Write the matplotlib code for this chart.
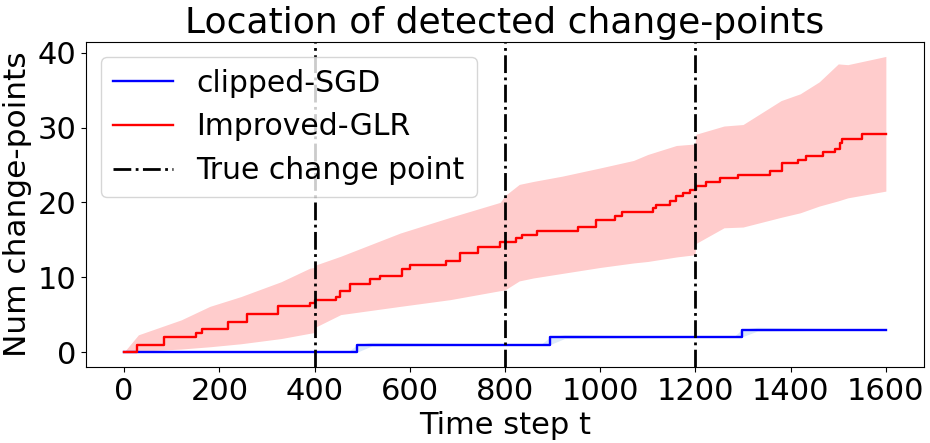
import numpy as np
import matplotlib
matplotlib.use("Agg")
import matplotlib.pyplot as plt

# rata-rata jumlah change-point (Improved-GLR)
glr_t = [0, 28, 84, 151, 163, 219, 258, 324, 390, 401, 446, 453, 474, 516, 537, 583,
         600, 677, 705, 744, 789, 824, 835, 867, 954, 992, 1031, 1045, 1111, 1118,
         1146, 1160, 1174, 1188, 1202, 1223, 1251, 1290, 1356, 1381, 1416, 1433,
         1468, 1493, 1503, 1507, 1549, 1600]
glr_mean = [0, 1.0, 2.05, 2.5, 3.05, 4.0, 5.05, 6.1, 6.5, 7.0, 7.4, 8.1, 9.1, 9.7,
            10.1, 11.1, 11.6, 12.1, 13.2, 14.1, 14.7, 15.2, 15.7, 16.15, 16.7, 17.6,
            18.2, 18.7, 19.3, 19.7, 20.2, 20.8, 21.2, 21.7, 22.2, 22.7, 23.2, 23.6,
            24.2, 25.2, 25.7, 26.2, 26.7, 27.1, 27.9, 28.4, 29.1, 29.1]

# pita (batas atas / bawah) Improved-GLR
band_t = [0, 30, 120, 180, 245, 330, 390, 399, 401, 455, 580, 685, 790, 800, 830,
          860, 920, 1000, 1070, 1100, 1160, 1199, 1201, 1260, 1300, 1380, 1420,
          1460, 1500, 1520, 1600]
glr_upper = [0, 2.3, 4.3, 6.1, 7.4, 9.4, 11.2, 11.3, 11.6, 12.8, 15.9, 18.0, 20.0,
             20.9, 22.4, 22.8, 23.5, 24.6, 25.6, 26.4, 27.6, 27.8, 29.1, 30.2, 30.4,
             33.6, 34.5, 36.1, 38.5, 38.4, 39.5]
glr_lower = [0, 0.1, 0.4, 0.7, 1.1, 1.8, 2.5, 2.6, 3.3, 5.0, 6.1, 7.0, 8.2, 8.3,
             9.5, 9.9, 10.5, 11.3, 11.9, 12.1, 12.7, 13.0, 14.5, 16.6, 16.7, 18.0,
             18.6, 19.5, 20.2, 20.6, 21.5]

# clipped-SGD
sgd_t = [0, 490, 895, 1297, 1600]
sgd_mean = [0, 1, 2, 3, 3]
sgd_band_t = [0, 470, 490, 520, 875, 895, 925, 1280, 1297, 1330, 1600]
sgd_upper = [0, 0, 1.0, 1.3, 1.0, 2.0, 2.3, 2.0, 3.0, 3.3, 3.0]
sgd_lower = [0, 0, 0.0, 0.8, 1.0, 1.0, 1.8, 2.0, 2.0, 2.8, 3.0]

# lokasi change point sebenarnya
true_cp = [400, 800, 1200]

fig, ax = plt.subplots(figsize=(9.3, 4.43), dpi=100)
fig.subplots_adjust(left=0.0925, right=0.9935, bottom=0.172, top=0.906)

ax.fill_between(sgd_band_t, sgd_lower, sgd_upper, color="#a8c8f0", alpha=0.4, linewidth=0)
ax.step(sgd_t, sgd_mean, where="post", color="blue", lw=1.7, label="clipped-SGD")

ax.fill_between(band_t, glr_lower, glr_upper, color="red", alpha=0.2, linewidth=0)
ax.step(glr_t, glr_mean, where="post", color="red", lw=1.7, label="Improved-GLR")

for i, cp in enumerate(true_cp):
    ax.axvline(cp, color="black", linestyle="-.", lw=2,
               label="True change point" if i == 0 else None)

ax.set_title("Location of detected change-points", fontsize=26)
ax.set_xlabel("Time step t", fontsize=22)
ax.set_ylabel("Num change-points", fontsize=22.5)
ax.set_xticks(range(0, 1601, 200))
ax.set_yticks([0, 10, 20, 30, 40])
ax.tick_params(labelsize=22)
ax.legend(loc="upper left", fontsize=21.5)

plt.savefig("out.png", dpi=100)
